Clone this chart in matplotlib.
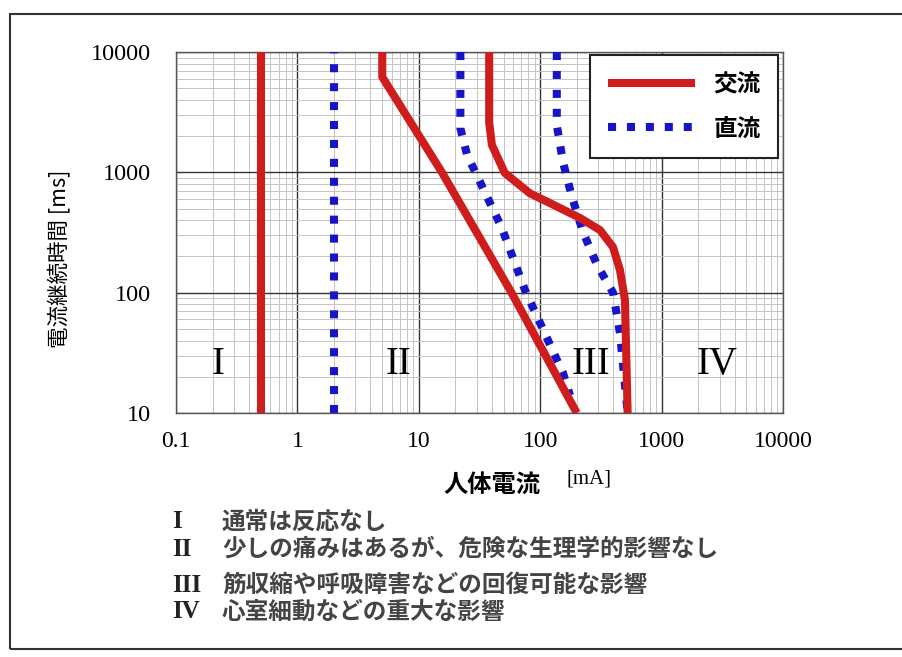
import matplotlib
matplotlib.use("Agg")
import matplotlib.pyplot as plt
from matplotlib.patches import Rectangle
from matplotlib.ticker import LogLocator, NullFormatter

plt.rcParams['font.family'] = ['Noto Sans CJK JP', 'DejaVu Sans']

# data (current mA, duration ms)
ac_x1 = [0.5, 0.5]
ac_y1 = [10, 10000]
dc_x1 = [2, 2]
dc_y1 = [10, 10000]
ac_x2 = [5, 5, 15.5, 58, 200]
ac_y2 = [10000, 6200, 1000, 100, 10]
dc_x2 = [22, 22, 25, 30, 48, 75, 154, 176]
dc_y2 = [10000, 2330, 1390, 950, 350, 105, 21.5, 14]
ac_x3 = [38, 38, 40, 51, 82, 120, 213, 311, 398, 454, 499, 525]
ac_y3 = [10000, 2600, 1690, 990, 670, 556, 417, 331, 239, 154, 87, 10]
dc_x3 = [137, 137, 154, 183, 225, 294, 398, 454, 525]
dc_y3 = [10000, 2470, 1220, 620, 320, 170, 100, 46, 10]

xticks = [0.1, 1, 10, 100, 1000, 10000]
xtick_labels = ['0.1', '1', '10', '100', '1000', '10000']
yticks = [10, 100, 1000, 10000]
ytick_labels = ['10', '100', '1000', '10000']

zone_names = ['I', 'II', 'III', 'IV']
zone_x = [0.222, 6.75, 262, 2860]
zone_y = 25.5

notes = ['通常は反応なし',
         '少しの痛みはあるが、危険な生理学的影響なし',
         '筋収縮や呼吸障害などの回復可能な影響',
         '心室細動などの重大な影響']
note_y = [522, 549, 585, 612]

red = '#cf1c1c'
blue = '#1616c8'
W, H = 903, 657

fig = plt.figure(figsize=(W / 100, H / 100), dpi=100)
ax = fig.add_axes([176 / W, 1 - 413 / H, 607 / W, 361 / H])

dots = (0, (1, 1.35))
lw = 5.8
ax.plot(dc_x1, dc_y1, color=blue, lw=lw, ls=dots, dash_capstyle='butt', zorder=3)
ax.plot(dc_x2, dc_y2, color=blue, lw=lw, ls=dots, dash_capstyle='butt', zorder=3)
ax.plot(dc_x3, dc_y3, color=blue, lw=lw, ls=dots, dash_capstyle='butt', zorder=3, label='直流')
ax.plot(ac_x1, ac_y1, color=red, lw=lw, solid_capstyle='butt', zorder=4, label='交流')
ax.plot(ac_x2, ac_y2, color=red, lw=lw, solid_capstyle='butt', solid_joinstyle='round', zorder=4)
ax.plot(ac_x3, ac_y3, color=red, lw=lw, solid_capstyle='butt', solid_joinstyle='round', zorder=4)

ax.set_xscale('log')
ax.set_yscale('log')
ax.set_xlim(0.1, 10000)
ax.set_ylim(10, 10000)

ax.set_xticks(xticks)
ax.set_xticklabels(xtick_labels, fontfamily='Liberation Serif', fontsize=17)
ax.set_yticks(yticks)
ax.set_yticklabels(ytick_labels, fontfamily='Liberation Serif', fontsize=17.5)
ax.xaxis.set_minor_locator(LogLocator(base=10, subs=range(2, 10)))
ax.yaxis.set_minor_locator(LogLocator(base=10, subs=range(2, 10)))
ax.xaxis.set_minor_formatter(NullFormatter())
ax.yaxis.set_minor_formatter(NullFormatter())
ax.tick_params(axis='both', which='both', length=0)
ax.tick_params(axis='x', pad=13)
ax.tick_params(axis='y', pad=18)

ax.grid(True, which='minor', color='#c4c4c4', lw=0.7)
ax.grid(True, which='major', color='#333333', lw=1.0)
ax.set_axisbelow(True)
for s in ax.spines.values():
    s.set_color('#555555')
    s.set_linewidth(1.0)

for name, zx in zip(zone_names, zone_x):
    ax.text(zx, zone_y, name, fontfamily='Liberation Serif', fontsize=28,
            ha='center', va='center', zorder=5)

# legend: 交流 first, then 直流
handles, labels = ax.get_legend_handles_labels()
leg = ax.legend(handles[::-1], labels[::-1], loc='upper right',
                bbox_to_anchor=(0.992, 0.992), borderaxespad=0,
                prop={'family': ['Noto Sans CJK JP'], 'weight': 'bold', 'size': 17},
                handlelength=3.7, handletextpad=0.75, labelspacing=0.85,
                borderpad=0.75, fancybox=False, framealpha=1)
leg.get_frame().set_edgecolor('#222222')
leg.get_frame().set_linewidth(1.5)

fig.text(492 / W, 1 - 485 / H, '人体電流', fontsize=17.5, fontweight='bold',
         ha='center', va='center')
fig.text(589 / W, 1 - 479 / H, '[mA]', fontfamily='Liberation Serif', fontsize=15,
         ha='center', va='center')
fig.text(60 / W, 1 - 259 / H, '電流継続時間 [ms]', fontsize=15.5, rotation=90,
         ha='center', va='center')

for name, txt, y in zip(zone_names, notes, note_y):
    fig.text(172 / W, 1 - y / H, name, fontfamily='Liberation Serif',
             fontweight='bold', fontsize=18, ha='left', va='center', color='#222222')
    fig.text(222 / W, 1 - y / H, txt, fontsize=17, fontweight='bold',
             ha='left', va='center', color='#444444')

fig.add_artist(Rectangle((10 / W, 1 - 649 / H), 900 / W, 635 / H,
                         transform=fig.transFigure, fill=False,
                         ec='#333333', lw=1.5))

fig.savefig('out.png', dpi=100)
